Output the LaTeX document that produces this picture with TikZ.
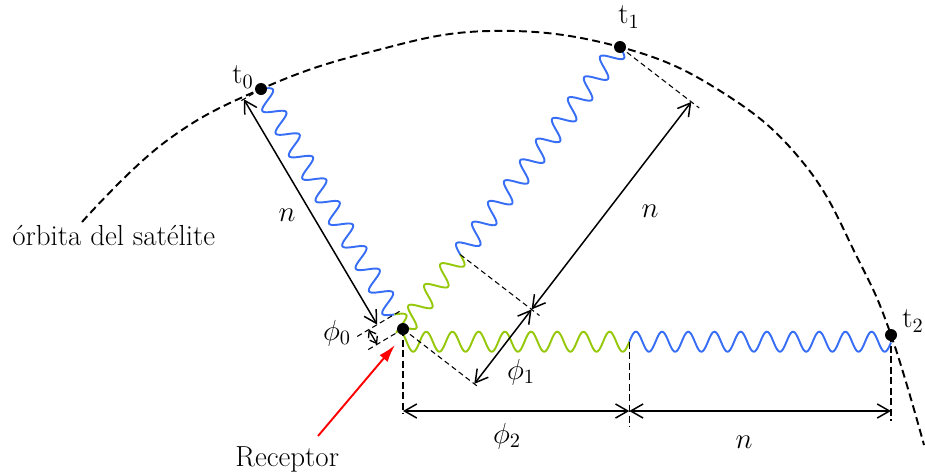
\RequirePackage{fix-cm}
\documentclass[tikz,border=0pt]{standalone}
\usepackage{fontspec}
\usetikzlibrary{calc,arrows.meta}
\definecolor{wblue}{RGB}{55,110,245}
\definecolor{wgreen}{RGB}{150,200,10}
\begin{document}
\begin{tikzpicture}[x=0.02cm,y=-0.02cm,
  every node/.style={font=\fontsize{16.5}{20}\selectfont, inner sep=0pt},
  >={Straight Barb[length=7pt,width=8pt]},
  dimarrow/.style={<->, line width=0.85pt},
  smallarrow/.style={{Straight Barb[length=3.5pt,width=5pt]}-{Straight Barb[length=3.5pt,width=5pt]}, line width=0.75pt},
  fine/.style={dash pattern=on 3pt off 2pt, line width=0.6pt},
  vdash/.style={dash pattern=on 4pt off 2pt, line width=0.75pt},
  orbit/.style={dash pattern=on 4.5pt off 2.5pt, line width=1.1pt},
  dot/.style={circle, fill=black, minimum size=0.24cm, inner sep=0pt},
  wave/.style={line width=1.1pt},
  pointer/.style={red, line width=1.1pt, -{Latex[length=10pt,width=6pt]}}
]
\useasboundingbox (0,0) rectangle (925,474);

% key points
\coordinate (T0) at (261,89);
\coordinate (T1) at (620,47);
\coordinate (T2) at (891,335);
\coordinate (RC) at (403,329);

% orbit
\draw[orbit] plot[smooth, tension=0.7] coordinates {(82,222) (165,142) (261,89) (370,52) (490,31) (620,47) (725,94) (805,165) (858,259) (891,335) (924,445)};

% junctions between n whole wavelengths and the fractional phase
\coordinate (J0) at ($(T0)!5.24cm!(RC)$);
\coordinate (J1) at ($(T1)!5.24cm!(RC)$);
\coordinate (J2) at (629.3,341.7);

% waves (wavelength 26.2 px: 360/26.2 = 13.7405)
\begin{scope}[shift={(J0)}, rotate=120.61, x=0.02cm, y=0.02cm]
  \draw[wave, wblue] plot[domain=0:262, samples=241] (\x, {10*sin(13.7405*\x)});
  \draw[wave, wgreen] plot[domain=-16.87:0, samples=20] (\x, {10*sin(13.7405*\x)});
\end{scope}
\begin{scope}[shift={(J1)}, rotate=52.42, x=0.02cm, y=0.02cm]
  \draw[wave, wblue] plot[domain=0:262, samples=241] (\x, {10*sin(13.7405*\x)});
  \draw[wave, wgreen] plot[domain=-93.83:0, samples=90] (\x, {10*sin(13.7405*\x)});
\end{scope}
\begin{scope}[shift={(J2)}, x=0.02cm, y=0.02cm]
  \draw[wave, wblue] plot[domain=0:261.7, samples=241] (\x, {10*sin(13.7405*\x)});
  \draw[wave, wgreen] plot[domain=-226.3:0, samples=210] (\x, {10*sin(13.7405*\x)});
\end{scope}

% t0 system
\coordinate (N0a) at ($(T0)!0.4cm!-90:(RC)$);
\coordinate (N0b) at ($(J0)!0.4cm!-90:(RC)$);
\coordinate (P0a) at ($(J0)!0.6cm!-90:(RC)$);
\coordinate (P0b) at ($(RC)!0.6cm!90:(T0)$);
\coordinate (D0a) at ($(T0)!0.5cm!-90:(RC)$);
\coordinate (D0o) at ($(J0)!0.12cm!90:(RC)$);
\coordinate (D0b) at ($(J0)!0.9cm!-90:(RC)$);
\coordinate (D0c) at ($(RC)!0.85cm!90:(T0)$);
\draw[fine] (T0) -- (D0a);
\draw[fine] (D0o) -- (D0b);
\draw[fine] (RC) -- (D0c);
\draw[dimarrow] (N0a) -- (N0b);
\draw[smallarrow] (P0a) -- (P0b);

% t1 system
\coordinate (N1a) at ($(T1)!1.8cm!90:(RC)$);
\coordinate (N1b) at ($(J1)!1.8cm!90:(RC)$);
\coordinate (P1b) at ($(RC)!1.8cm!-90:(T1)$);
\coordinate (D1a) at ($(T1)!2cm!90:(RC)$);
\coordinate (D1b) at ($(J1)!2cm!90:(RC)$);
\coordinate (D1c) at ($(RC)!1.9cm!-90:(T1)$);
\draw[fine] (T1) -- (D1a);
\draw[fine] (J1) -- (D1b);
\draw[fine] (RC) -- (D1c);
\draw[dimarrow] (N1a) -- (N1b);
\draw[dimarrow] (N1b) -- (P1b);

% t2 system
\coordinate (B0) at (403,411);
\coordinate (B1) at (629.3,411);
\coordinate (B2) at (891,411);
\coordinate (V0) at (403,414);
\coordinate (V1) at (629.3,427);
\coordinate (V2) at (891,421);
\draw[vdash] (RC) -- (V0);
\draw[vdash] (J2) -- (V1);
\draw[vdash] (T2) -- (V2);
\draw[dimarrow] (B0) -- (B1);
\draw[dimarrow] (B1) -- (B2);

% dots
\node[dot] (t0) at (T0) {};
\node[dot] (t1) at (T1) {};
\node[dot] (t2) at (T2) {};
\node[dot] (r) at (RC) {};

% receptor pointer
\coordinate (RS) at (318,436);
\coordinate (RE) at (395,345);
\draw[pointer] (RS) -- (RE);

% labels
\node (lt0) at (243,77) {$\mathrm{t}_0$};
\node (lt1) at (629,17) {$\mathrm{t}_1$};
\node (lt2) at (913,321) {$\mathrm{t}_2$};
\node (ln0) at (287,215) {$n$};
\node (ln1) at (650,211) {$n$};
\node (ln2) at (744,442) {$n$};
\node (lp0) at (337,333) {$\phi_0$};
\node (lp1) at (521,372) {$\phi_1$};
\node (lp2) at (507,436) {$\phi_2$};
\node[anchor=base west] (orb) at (12,245) {órbita del satélite};
\node[anchor=base west] (rec) at (235,466) {Receptor};
\end{tikzpicture}
\end{document}
